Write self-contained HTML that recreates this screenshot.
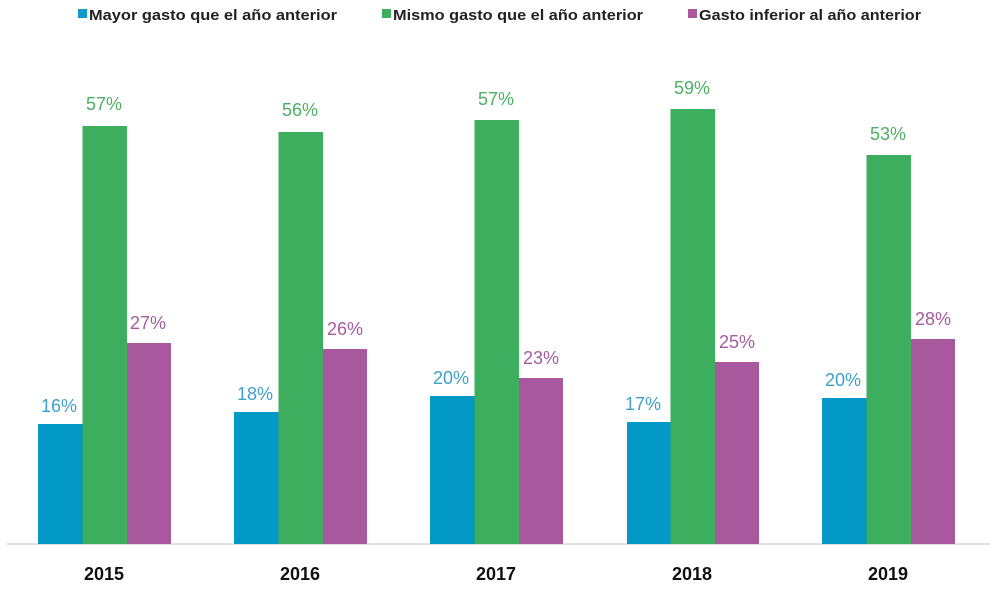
<!DOCTYPE html>
<html><head><meta charset="utf-8"><style>
html,body{margin:0;padding:0;background:#fff;}
svg{display:block;}
</style></head><body>
<svg width="997" height="591" viewBox="0 0 997 591" xmlns="http://www.w3.org/2000/svg" font-family="Liberation Sans, Arial, sans-serif">
<rect width="997" height="591" fill="#fff"/>
<!-- legend -->
<rect x="78" y="9" width="9" height="9" fill="#0f9ac8"/>
<text x="89" y="20" font-size="15" font-weight="bold" fill="#222" textLength="248" lengthAdjust="spacingAndGlyphs">Mayor gasto que el año anterior</text>
<rect x="382" y="9" width="9" height="9" fill="#3fae5c"/>
<text x="393" y="20" font-size="15" font-weight="bold" fill="#222" textLength="250" lengthAdjust="spacingAndGlyphs">Mismo gasto que el año anterior</text>
<rect x="688" y="9" width="9" height="9" fill="#a9589b"/>
<text x="699" y="20" font-size="15" font-weight="bold" fill="#222" textLength="222" lengthAdjust="spacingAndGlyphs">Gasto inferior al año anterior</text>
<!-- axis -->
<line x1="7" y1="544" x2="990" y2="544" stroke="#d8d8d8" stroke-width="1.5"/>
<g id="bars">
<rect x="38" y="424" width="44.5" height="120" fill="#0399c6"/>
<rect x="82.5" y="126" width="44.5" height="418" fill="#3dae5e"/>
<rect x="127" y="343" width="44" height="201" fill="#a8589c"/>
<rect x="234" y="412" width="44.5" height="132" fill="#0399c6"/>
<rect x="278.5" y="132" width="44.5" height="412" fill="#3dae5e"/>
<rect x="323" y="349" width="44" height="195" fill="#a8589c"/>
<rect x="430" y="396" width="44.5" height="148" fill="#0399c6"/>
<rect x="474.5" y="120" width="44.5" height="424" fill="#3dae5e"/>
<rect x="519" y="378" width="44" height="166" fill="#a8589c"/>
<rect x="627" y="422" width="43.5" height="122" fill="#0399c6"/>
<rect x="670.5" y="109" width="44.5" height="435" fill="#3dae5e"/>
<rect x="715" y="362" width="44" height="182" fill="#a8589c"/>
<rect x="822" y="398" width="44.5" height="146" fill="#0399c6"/>
<rect x="866.5" y="155" width="44.5" height="389" fill="#3dae5e"/>
<rect x="911" y="339" width="44" height="205" fill="#a8589c"/>
</g>
<g font-size="18" text-anchor="middle">
<g fill="#3f9fcb">
<text x="59" y="412">16%</text>
<text x="255" y="400">18%</text>
<text x="451" y="384">20%</text>
<text x="643" y="410">17%</text>
<text x="843" y="386">20%</text>
</g>
<g fill="#4daf63">
<text x="104" y="110">57%</text>
<text x="300" y="116">56%</text>
<text x="496" y="105">57%</text>
<text x="692" y="94">59%</text>
<text x="888" y="140">53%</text>
</g>
<g fill="#a65ba0">
<text x="148" y="329">27%</text>
<text x="345" y="335">26%</text>
<text x="541" y="364">23%</text>
<text x="737" y="348">25%</text>
<text x="933" y="325">28%</text>
</g>
</g>
<g font-size="18" font-weight="bold" fill="#111" text-anchor="middle">
<text x="104" y="580">2015</text>
<text x="300" y="580">2016</text>
<text x="496" y="580">2017</text>
<text x="692" y="580">2018</text>
<text x="888" y="580">2019</text>
</g>
</svg>
</body></html>
